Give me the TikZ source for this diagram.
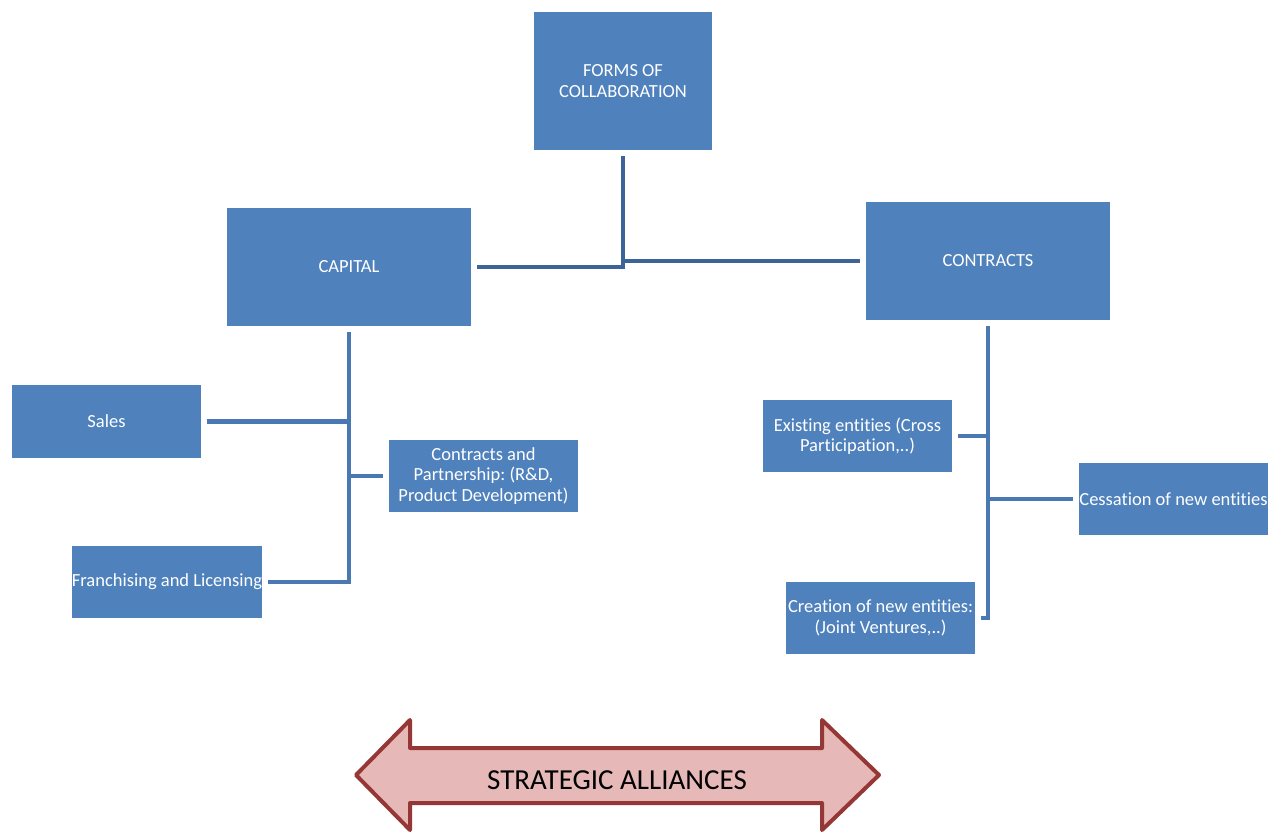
\documentclass[tikz,border=0pt]{standalone}
\usepackage{fontspec}
\setmainfont{Carlito}[RawFeature={-liga;-clig;-calt;-dlig}]
\frenchspacing
\definecolor{boxblue}{HTML}{4F81BD}
\definecolor{linkdark}{HTML}{3E6497}
\definecolor{linkblue}{HTML}{4A78B2}
\definecolor{arrowfill}{HTML}{E6B9B8}
\definecolor{arrowedge}{HTML}{953735}
\tikzset{
  box/.style={fill=boxblue, draw=none, text=white, align=center,
    inner sep=0pt, outer sep=6pt,
    font=\fontsize{18.5}{20.5}\selectfont},
  topbox/.style={box, minimum width=178pt, minimum height=138pt},
  mainbox/.style={box, minimum width=244pt, minimum height=118pt},
  leafbox/.style={box, minimum width=189pt, minimum height=72pt},
  link/.style={draw=linkblue, line width=4.5pt},
  toplink/.style={draw=linkdark, line width=4.5pt},
}
\begin{document}
\begin{tikzpicture}[x=1pt, y=-1pt]
\useasboundingbox (0,0) rectangle (1271,831);

% boxes
\node[topbox]  (forms)     at (623,81)   {FORMS OF\\COLLABORATION};
\node[mainbox] (capital)   at (349,267)  {CAPITAL};
\node[mainbox] (contracts) at (988,261)  {CONTRACTS};

\node[leafbox, minimum height=73pt] (sales)   at (106.5,421.5) {Sales};
\node[leafbox] (partner) at (483.5,476) {Contracts and\\Partnership: (R\&D,\\Product Development)};
\node[leafbox] (franch)  at (167,582)   {Franchising and Licensing};

\node[leafbox] (exist)  at (857.5,436)  {Existing entities (Cross\\Participation,..)};
\node[leafbox] (cess)   at (1173.5,499) {Cessation of new entities};
\node[leafbox] (create) at (880.5,618)  {Creation of new entities:\\(Joint Ventures,..)};

% top level connectors
\draw[toplink] (forms.south) -- (forms.south |- capital.east) -- (capital.east);
\draw[toplink] (forms.south |- contracts.west) -- (contracts.west);

% capital branch
\draw[link] (capital.south) -- (capital.south |- franch.east) -- (franch.east);
\draw[link] (sales.east) -- (sales.east -| capital.south);
\draw[link] (capital.south |- partner.west) -- (partner.west);

% contracts branch
\draw[link] (contracts.south) -- (contracts.south |- create.east) -- (create.east);
\draw[link] (exist.east) -- (exist.east -| contracts.south);
\draw[link] (contracts.south |- cess.west) -- (cess.west);

% double-headed arrow
\draw[fill=arrowfill, draw=arrowedge, line width=4pt, line join=round]
  (356,775) -- (410,720) -- (410,748) -- (822,748) -- (822,720) -- (879,775)
  -- (822,830) -- (822,803) -- (410,803) -- (410,830) -- cycle;
\node[font=\fontsize{29}{32}\selectfont, text=black] (alliances) at (617,780)
  {STRATEGIC ALLIANCES};
\end{tikzpicture}
\end{document}
